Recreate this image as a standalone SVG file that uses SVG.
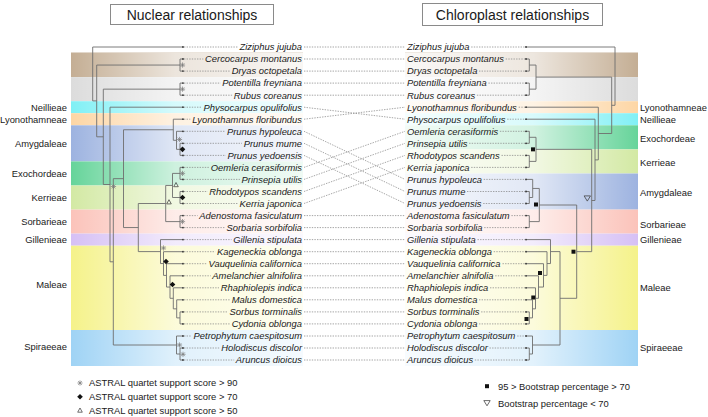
<svg xmlns="http://www.w3.org/2000/svg" width="708" height="417" viewBox="0 0 708 417">
<defs>
<style>
text{font-family:"Liberation Sans",Arial,sans-serif;fill:#1a1a1a}
.tl{font-size:9.4px;font-style:italic;text-anchor:end}
.tr{font-size:9.4px;font-style:italic}
.tribe{font-size:9.4px}
.tribeL{font-size:9.4px;text-anchor:end}
.title{font-size:14px;text-anchor:middle}
.leg{font-size:9.4px}
.tree{fill:none;stroke:#6e6e6e;stroke-width:0.9}
.dot{fill:none;stroke:#808080;stroke-width:0.7;stroke-dasharray:1.4 1.2}
.box{fill:#fff;stroke:#8a8a8a;stroke-width:1}
</style>
<linearGradient id="fadeL" x1="0" y1="0" x2="1" y2="0">
<stop offset="0" stop-color="#fff" stop-opacity="0"/>
<stop offset="0.45" stop-color="#fff" stop-opacity="0.68"/>
<stop offset="1" stop-color="#fff" stop-opacity="0.9"/>
</linearGradient>
<linearGradient id="fadeR" x1="0" y1="0" x2="1" y2="0">
<stop offset="0" stop-color="#fff" stop-opacity="0.92"/>
<stop offset="0.55" stop-color="#fff" stop-opacity="0.7"/>
<stop offset="1" stop-color="#fff" stop-opacity="0"/>
</linearGradient>
<g id="ast" stroke="#7a7a7a" stroke-width="0.7" fill="none"><path d="M-2.6 0H2.6M0 -2.6V2.6M-1.85 -1.85L1.85 1.85M-1.85 1.85L1.85 -1.85"/></g>
<path id="dia" d="M0 -2.8L2.8 0L0 2.8L-2.8 0Z" fill="#111"/>
<path id="tri" d="M0 -2.3L2.3 1.9H-2.3Z" fill="none" stroke="#333" stroke-width="0.7"/>
<rect id="sq" x="-2" y="-2" width="4" height="4" fill="#111"/>
<path id="trid" d="M-3.2 -2.6H3.2L0 2.6Z" fill="none" stroke="#444" stroke-width="0.8"/>
</defs>
<rect width="708" height="417" fill="#fff"/>

<g id="bands-left">
<rect x="71" y="52.5" width="232" height="24.6" fill="#c4ae94"/>
<rect x="71" y="77.1" width="232" height="24.1" fill="#dcdcdc"/>
<rect x="71" y="101.2" width="232" height="12" fill="#80f0f5"/>
<rect x="71" y="113.2" width="232" height="12.1" fill="#fdd6a5"/>
<rect x="71" y="125.3" width="232" height="36.1" fill="#9db3e0"/>
<rect x="71" y="161.4" width="232" height="24.1" fill="#66d49a"/>
<rect x="71" y="185.5" width="232" height="24.1" fill="#d3e9a4"/>
<rect x="71" y="209.6" width="232" height="24" fill="#fbc3ba"/>
<rect x="71" y="233.6" width="232" height="12.1" fill="#d6c0f5"/>
<rect x="71" y="245.7" width="232" height="84.3" fill="#f5f28a"/>
<rect x="71" y="330" width="232" height="36" fill="#9fd3f5"/>
<rect x="71" y="52.5" width="232" height="313.5" fill="url(#fadeL)"/>
</g>
<g id="bands-right">
<rect x="405" y="52.5" width="233" height="24.6" fill="#c4ae94"/>
<rect x="405" y="77.1" width="233" height="24.1" fill="#dcdcdc"/>
<rect x="405" y="101.2" width="233" height="12" fill="#fdd6a5"/>
<rect x="405" y="113.2" width="233" height="12.1" fill="#80f0f5"/>
<rect x="405" y="125.3" width="233" height="24.1" fill="#66d49a"/>
<rect x="405" y="149.4" width="233" height="24.1" fill="#d3e9a4"/>
<rect x="405" y="173.5" width="233" height="36.1" fill="#9db3e0"/>
<rect x="405" y="209.6" width="233" height="24" fill="#fbc3ba"/>
<rect x="405" y="233.6" width="233" height="12.1" fill="#d6c0f5"/>
<rect x="405" y="245.7" width="233" height="84.3" fill="#f5f28a"/>
<rect x="405" y="330" width="233" height="36" fill="#9fd3f5"/>
<rect x="405" y="52.5" width="233" height="313.5" fill="url(#fadeR)"/>
</g>

<g id="titles">
<g id="title-nuclear"><rect class="box" x="110.5" y="4.5" width="163" height="20"/><text class="title" x="192" y="19.5">Nuclear relationships</text></g>
<g id="title-chloroplast"><rect class="box" x="422.5" y="3.5" width="180" height="22"/><text class="title" x="512.5" y="19.5">Chloroplast relationships</text></g>
</g>

<g id="connectors">
<g id="tree-left" class="tree">
<path d="M92.7 47V100.9M92.7 47H183M92.7 100.9H96.7"/>
<path d="M96.7 65.05V136.8M96.7 65.05H180M96.7 136.8H103.3"/>
<path d="M180 59V71.1M180 59H183M180 71.1H183"/>
<path d="M103.3 89.15V184.5M103.3 89.15H180M103.3 184.5H110"/>
<path d="M180 83.1V95.2M180 83.1H183M180 95.2H183"/>
<path d="M110 107.2V261.8M110 107.2H183M110 261.8H113.3"/>
<path d="M113.3 178.65V345M113.3 178.65H123.5M113.3 345H176.5"/>
<path d="M123.5 129.75V227.55M123.5 129.75H173.3M123.5 227.55H138.3"/>
<path d="M173.3 119.2V140.3M173.3 119.2H183M173.3 140.3H176.5"/>
<path d="M176.5 131.3V149.35M176.5 131.3H183M176.5 149.35H180"/>
<path d="M180 143.3V155.4M180 143.3H183M180 155.4H183"/>
<path d="M138.3 203.5V251.6M138.3 203.5H165.7M138.3 251.6H160.5"/>
<path d="M165.7 185.45V221.6M165.7 185.45H172.5M165.7 221.6H180"/>
<path d="M172.5 173.4V197.5M172.5 173.4H180M172.5 197.5H180"/>
<path d="M180 167.4V179.4M180 167.4H183M180 179.4H183"/>
<path d="M180 191.5V203.5M180 191.5H183M180 203.5H183"/>
<path d="M180 215.6V227.6M180 215.6H183M180 227.6H183"/>
<path d="M160.5 239.6V263.55M160.5 239.6H183M160.5 263.55H163.5"/>
<path d="M163.5 251.7V275.4M163.5 251.7H183M163.5 275.4H166.5"/>
<path d="M166.5 263.7V287.05M166.5 263.7H183M166.5 287.05H170"/>
<path d="M170 275.8V298.3M170 275.8H183M170 298.3H173.3"/>
<path d="M173.3 287.8V308.85M173.3 287.8H183M173.3 308.85H176.7"/>
<path d="M176.7 299.8V317.9M176.7 299.8H183M176.7 317.9H180"/>
<path d="M180 311.9V323.9M180 311.9H183M180 323.9H183"/>
<path d="M176.5 336V354M176.5 336H183M176.5 354H180"/>
<path d="M180 348V360M180 348H183M180 360H183"/>
</g>
<g id="tree-right" class="tree">
<path d="M615 47V105.3M615 47H526M615 105.3H611.7"/>
<path d="M611.7 77.1V133.5M611.7 77.1H536M611.7 133.5H598.3"/>
<path d="M536 65.05V89.15M536 65.05H529.3M536 89.15H529.3"/>
<path d="M529.3 59V71.1M529.3 59H526M529.3 71.1H526"/>
<path d="M529.3 83.1V95.2M529.3 83.1H526M529.3 95.2H526"/>
<path d="M598.3 107.2V159.9M598.3 107.2H526M598.3 159.9H595"/>
<path d="M595 119.2V200.5M595 119.2H526M595 200.5H591.7"/>
<path d="M591.7 149.35V251.65M591.7 149.35H536M591.7 251.65H576.7"/>
<path d="M536 137.3V161.4M536 137.3H529.3M536 161.4H529.3"/>
<path d="M529.3 131.3V143.3M529.3 131.3H526M529.3 143.3H526"/>
<path d="M529.3 155.4V167.4M529.3 155.4H526M529.3 167.4H526"/>
<path d="M576.7 205V298.3M576.7 205H539.3M576.7 298.3H560"/>
<path d="M539.3 188.45V221.6M539.3 188.45H532.7M539.3 221.6H529.3"/>
<path d="M532.7 179.4V197.5M532.7 179.4H526M532.7 197.5H529.3"/>
<path d="M529.3 191.5V203.5M529.3 191.5H526M529.3 203.5H526"/>
<path d="M529.3 215.6V227.6M529.3 215.6H526M529.3 227.6H526"/>
<path d="M560 251.6V345M560 251.6H550.5M560 345H532.5"/>
<path d="M550.5 239.6V263.55M550.5 239.6H526M550.5 263.55H547"/>
<path d="M547 251.7V275.4M547 251.7H526M547 275.4H543.5"/>
<path d="M543.5 263.7V287.05M543.5 263.7H526M543.5 287.05H538.5"/>
<path d="M538.5 275.8V298.3M538.5 275.8H526M538.5 298.3H535.5"/>
<path d="M535.5 287.8V308.85M535.5 287.8H526M535.5 308.85H532.5"/>
<path d="M532.5 299.8V317.9M532.5 299.8H526M532.5 317.9H529.3"/>
<path d="M529.3 311.9V323.9M529.3 311.9H526M529.3 323.9H526"/>
<path d="M532.5 336V354M532.5 336H526M532.5 354H529.3"/>
<path d="M529.3 348V360M529.3 348H526M529.3 360H526"/>
</g>
<g id="dotted-left" class="dot">
<path d="M184 47H237.8M184 59H203.3M184 71.1H230M184 83.1H220.6M184 95.2H232.1M184 107.2H201.8M184 119.2H190.3M184 131.3H225.3M184 143.3H242M184 155.4H225.8M184 167.4H209.1M184 179.4H239.9M184 191.5H207.5M184 203.5H237.8M184 215.6H197.6M184 227.6H224.8M184 239.6H231.5M184 251.7H215.3M184 263.7H206.5M184 275.8H210.7M184 287.8H219M184 299.8H230M184 311.9H227.9M184 323.9H230M184 336H191.8M184 348H219.5M184 360H234.2"/>
</g>
<g id="dotted-right" class="dot">
<path d="M471.2 47H525M505.7 59H525M479 71.1H525M488.4 83.1H525M476.9 95.2H525M518.7 107.2H525M507.2 119.2H525M499.9 131.3H525M469.1 143.3H525M501.5 155.4H525M471.2 167.4H525M483.7 179.4H525M467 191.5H525M483.2 203.5H525M511.4 215.6H525M484.2 227.6H525M477.5 239.6H525M493.7 251.7H525M502.5 263.7H525M495.2 275.8H525M490 287.8H525M479 299.8H525M481.1 311.9H525M479 323.9H525M517.2 336H525M489.5 348H525M474.8 360H525"/>
</g>
<g id="dotted-middle" class="dot">
<path d="M304 47H405M304 59H405M304 71.1H405M304 83.1H405M304 95.2H405"/>
<path d="M304 107.2L405 119.2M304 119.2L405 107.2"/>
<path d="M304 131.3L405 179.4M304 143.3L405 191.5M304 155.4L405 203.5"/>
<path d="M304 167.4L405 131.3M304 179.4L405 143.3M304 191.5L405 155.4M304 203.5L405 167.4"/>
<path d="M304 215.6H405M304 227.6H405M304 239.6H405M304 251.7H405M304 263.7H405M304 275.8H405M304 287.8H405M304 299.8H405M304 311.9H405M304 323.9H405M304 336H405M304 348H405M304 360H405"/>
</g>
</g>

<g id="tips" fill="#333">
<g id="tips-left">
<circle cx="183" cy="47" r="0.9"/><circle cx="183" cy="59" r="0.9"/><circle cx="183" cy="71.1" r="0.9"/><circle cx="183" cy="83.1" r="0.9"/><circle cx="183" cy="95.2" r="0.9"/><circle cx="183" cy="107.2" r="0.9"/><circle cx="183" cy="119.2" r="0.9"/><circle cx="183" cy="131.3" r="0.9"/><circle cx="183" cy="143.3" r="0.9"/><circle cx="183" cy="155.4" r="0.9"/><circle cx="183" cy="167.4" r="0.9"/><circle cx="183" cy="179.4" r="0.9"/><circle cx="183" cy="191.5" r="0.9"/><circle cx="183" cy="203.5" r="0.9"/><circle cx="183" cy="215.6" r="0.9"/><circle cx="183" cy="227.6" r="0.9"/><circle cx="183" cy="239.6" r="0.9"/><circle cx="183" cy="251.7" r="0.9"/><circle cx="183" cy="263.7" r="0.9"/><circle cx="183" cy="275.8" r="0.9"/><circle cx="183" cy="287.8" r="0.9"/><circle cx="183" cy="299.8" r="0.9"/><circle cx="183" cy="311.9" r="0.9"/><circle cx="183" cy="323.9" r="0.9"/><circle cx="183" cy="336" r="0.9"/><circle cx="183" cy="348" r="0.9"/><circle cx="183" cy="360" r="0.9"/>
</g>
<g id="tips-right">
<circle cx="526" cy="47" r="0.9"/><circle cx="526" cy="59" r="0.9"/><circle cx="526" cy="71.1" r="0.9"/><circle cx="526" cy="83.1" r="0.9"/><circle cx="526" cy="95.2" r="0.9"/><circle cx="526" cy="107.2" r="0.9"/><circle cx="526" cy="119.2" r="0.9"/><circle cx="526" cy="131.3" r="0.9"/><circle cx="526" cy="143.3" r="0.9"/><circle cx="526" cy="155.4" r="0.9"/><circle cx="526" cy="167.4" r="0.9"/><circle cx="526" cy="179.4" r="0.9"/><circle cx="526" cy="191.5" r="0.9"/><circle cx="526" cy="203.5" r="0.9"/><circle cx="526" cy="215.6" r="0.9"/><circle cx="526" cy="227.6" r="0.9"/><circle cx="526" cy="239.6" r="0.9"/><circle cx="526" cy="251.7" r="0.9"/><circle cx="526" cy="263.7" r="0.9"/><circle cx="526" cy="275.8" r="0.9"/><circle cx="526" cy="287.8" r="0.9"/><circle cx="526" cy="299.8" r="0.9"/><circle cx="526" cy="311.9" r="0.9"/><circle cx="526" cy="323.9" r="0.9"/><circle cx="526" cy="336" r="0.9"/><circle cx="526" cy="348" r="0.9"/><circle cx="526" cy="360" r="0.9"/>
</g>
</g>

<g id="support-left">
<use href="#ast" x="182.5" y="65.05"/>
<use href="#ast" x="182.5" y="89.15"/>
<use href="#ast" x="179.5" y="139.5"/>
<use href="#dia" x="182.5" y="149.35"/>
<use href="#ast" x="182.5" y="173.4"/>
<use href="#dia" x="182.5" y="197.5"/>
<use href="#tri" x="176" y="184.8"/>
<use href="#tri" x="169" y="202"/>
<use href="#ast" x="182.5" y="221.6"/>
<use href="#ast" x="113.5" y="186.5"/>
<use href="#ast" x="163.5" y="248"/>
<use href="#dia" x="166" y="261.5"/>
<use href="#dia" x="172.5" y="284.5"/>
<use href="#ast" x="179.5" y="345"/>
<use href="#ast" x="183" y="354.3"/>
</g>
<g id="support-right">
<use href="#sq" x="533" y="149.35"/>
<use href="#sq" x="536" y="204.5"/>
<use href="#trid" x="587.3" y="198.5"/>
<use href="#sq" x="573.5" y="251.7"/>
<use href="#sq" x="540" y="273"/>
<use href="#sq" x="533.3" y="297.5"/>
<use href="#sq" x="526.5" y="319"/>
</g>

<g id="taxa-left">
<text class="tl" x="302" y="50.3">Ziziphus jujuba</text>
<text class="tl" x="302" y="62.3">Cercocarpus montanus</text>
<text class="tl" x="302" y="74.4">Dryas octopetala</text>
<text class="tl" x="302" y="86.4">Potentilla freyniana</text>
<text class="tl" x="302" y="98.5">Rubus coreanus</text>
<text class="tl" x="302" y="110.5">Physocarpus opulifolius</text>
<text class="tl" x="302" y="122.5">Lyonothamnus floribundus</text>
<text class="tl" x="302" y="134.6">Prunus hypoleuca</text>
<text class="tl" x="302" y="146.6">Prunus mume</text>
<text class="tl" x="302" y="158.7">Prunus yedoensis</text>
<text class="tl" x="302" y="170.7">Oemleria cerasiformis</text>
<text class="tl" x="302" y="182.7">Prinsepia utilis</text>
<text class="tl" x="302" y="194.8">Rhodotypos scandens</text>
<text class="tl" x="302" y="206.8">Kerria japonica</text>
<text class="tl" x="302" y="218.9">Adenostoma fasiculatum</text>
<text class="tl" x="302" y="230.9">Sorbaria sorbifolia</text>
<text class="tl" x="302" y="242.9">Gillenia stipulata</text>
<text class="tl" x="302" y="255">Kageneckia oblonga</text>
<text class="tl" x="302" y="267">Vauquelinia californica</text>
<text class="tl" x="302" y="279.1">Amelanchier alnifolira</text>
<text class="tl" x="302" y="291.1">Rhaphiolepis indica</text>
<text class="tl" x="302" y="303.1">Malus domestica</text>
<text class="tl" x="302" y="315.2">Sorbus torminalis</text>
<text class="tl" x="302" y="327.2">Cydonia oblonga</text>
<text class="tl" x="302" y="339.3">Petrophytum caespitosum</text>
<text class="tl" x="302" y="351.3">Holodiscus discolor</text>
<text class="tl" x="302" y="363.3">Aruncus dioicus</text>
</g>
<g id="taxa-right">
<text class="tr" x="407" y="50.3">Ziziphus jujuba</text>
<text class="tr" x="407" y="62.3">Cercocarpus montanus</text>
<text class="tr" x="407" y="74.4">Dryas octopetala</text>
<text class="tr" x="407" y="86.4">Potentilla freyniana</text>
<text class="tr" x="407" y="98.5">Rubus coreanus</text>
<text class="tr" x="407" y="110.5">Lyonothamnus floribundus</text>
<text class="tr" x="407" y="122.5">Physocarpus opulifolius</text>
<text class="tr" x="407" y="134.6">Oemleria cerasiformis</text>
<text class="tr" x="407" y="146.6">Prinsepia utilis</text>
<text class="tr" x="407" y="158.7">Rhodotypos scandens</text>
<text class="tr" x="407" y="170.7">Kerria japonica</text>
<text class="tr" x="407" y="182.7">Prunus hypoleuca</text>
<text class="tr" x="407" y="194.8">Prunus mume</text>
<text class="tr" x="407" y="206.8">Prunus yedoensis</text>
<text class="tr" x="407" y="218.9">Adenostoma fasiculatum</text>
<text class="tr" x="407" y="230.9">Sorbaria sorbifolia</text>
<text class="tr" x="407" y="242.9">Gillenia stipulata</text>
<text class="tr" x="407" y="255">Kageneckia oblonga</text>
<text class="tr" x="407" y="267">Vauquelinia californica</text>
<text class="tr" x="407" y="279.1">Amelanchier alnifolia</text>
<text class="tr" x="407" y="291.1">Rhaphiolepis indica</text>
<text class="tr" x="407" y="303.1">Malus domestica</text>
<text class="tr" x="407" y="315.2">Sorbus torminalis</text>
<text class="tr" x="407" y="327.2">Cydonia oblonga</text>
<text class="tr" x="407" y="339.3">Petrophytum caespitosum</text>
<text class="tr" x="407" y="351.3">Holodiscus discolor</text>
<text class="tr" x="407" y="363.3">Aruncus dioicus</text>
</g>

<g id="tribes-left">
<text class="tribeL" x="67" y="110.5">Neillieae</text>
<text class="tribeL" x="67" y="122.5">Lyonothamneae</text>
<text class="tribeL" x="67" y="146.6">Amygdaleae</text>
<text class="tribeL" x="67" y="176.7">Exochordeae</text>
<text class="tribeL" x="67" y="200.8">Kerrieae</text>
<text class="tribeL" x="67" y="224.6">Sorbarieae</text>
<text class="tribeL" x="67" y="242.9">Gillenieae</text>
<text class="tribeL" x="67" y="288">Maleae</text>
<text class="tribeL" x="67" y="350.3">Spiraeeae</text>
</g>
<g id="tribes-right">
<text class="tribe" x="640" y="110.5">Lyonothamneae</text>
<text class="tribe" x="640" y="122.5">Neillieae</text>
<text class="tribe" x="640" y="141.5">Exochordeae</text>
<text class="tribe" x="640" y="165.7">Kerrieae</text>
<text class="tribe" x="640" y="196.3">Amygdaleae</text>
<text class="tribe" x="640" y="228">Sorbarieae</text>
<text class="tribe" x="640" y="243.2">Gillenieae</text>
<text class="tribe" x="640" y="291.3">Maleae</text>
<text class="tribe" x="640" y="351.3">Spiraeeae</text>
</g>

<g id="legend-left">
<use href="#ast" x="80" y="383"/>
<text class="leg" x="89" y="386.3">ASTRAL quartet support score &gt; 90</text>
<use href="#dia" x="80" y="396.8"/>
<text class="leg" x="89" y="400.1">ASTRAL quartet support score &gt; 70</text>
<use href="#tri" x="80" y="410.3"/>
<text class="leg" x="89" y="413.6">ASTRAL quartet support score &gt; 50</text>
</g>
<g id="legend-right">
<use href="#sq" x="487" y="386.2"/>
<text class="leg" x="498" y="389.5">95 &gt; Bootstrap percentage &gt; 70</text>
<use href="#trid" x="487" y="403.2"/>
<text class="leg" x="498" y="406.7">Bootstrap percentage &lt; 70</text>
</g>
</svg>
